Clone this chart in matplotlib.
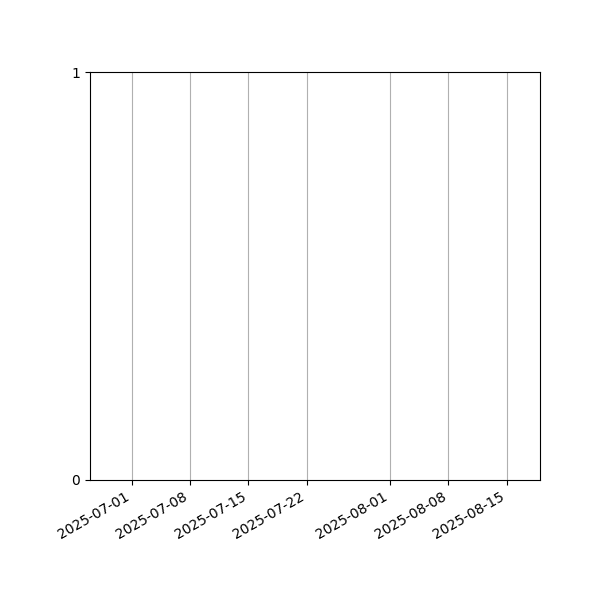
import numpy as np
import matplotlib
matplotlib.use('Agg')
import matplotlib.pyplot as plt
import matplotlib.dates as mdates

# empty chart: only the date span and the y ticks are known
date_start = np.datetime64('2025-06-26')
date_end = np.datetime64('2025-08-19')
tick_dates = ['2025-07-01', '2025-07-08', '2025-07-15', '2025-07-22',
              '2025-08-01', '2025-08-08', '2025-08-15']
yticks = [0, 1]

fig, ax = plt.subplots(figsize=(6, 6), dpi=100)
ax.set_xlim(date_start, date_end)
ax.set_ylim(0, 1)
ax.set_xticks(np.array(tick_dates, dtype='datetime64[D]'))
ax.xaxis.set_major_formatter(mdates.DateFormatter('%Y-%m-%d'))
ax.set_yticks(yticks)
ax.grid(True, axis='x')
fig.autofmt_xdate()
fig.subplots_adjust(left=0.15, right=0.9, top=0.88, bottom=0.2)
fig.savefig('out.png')
